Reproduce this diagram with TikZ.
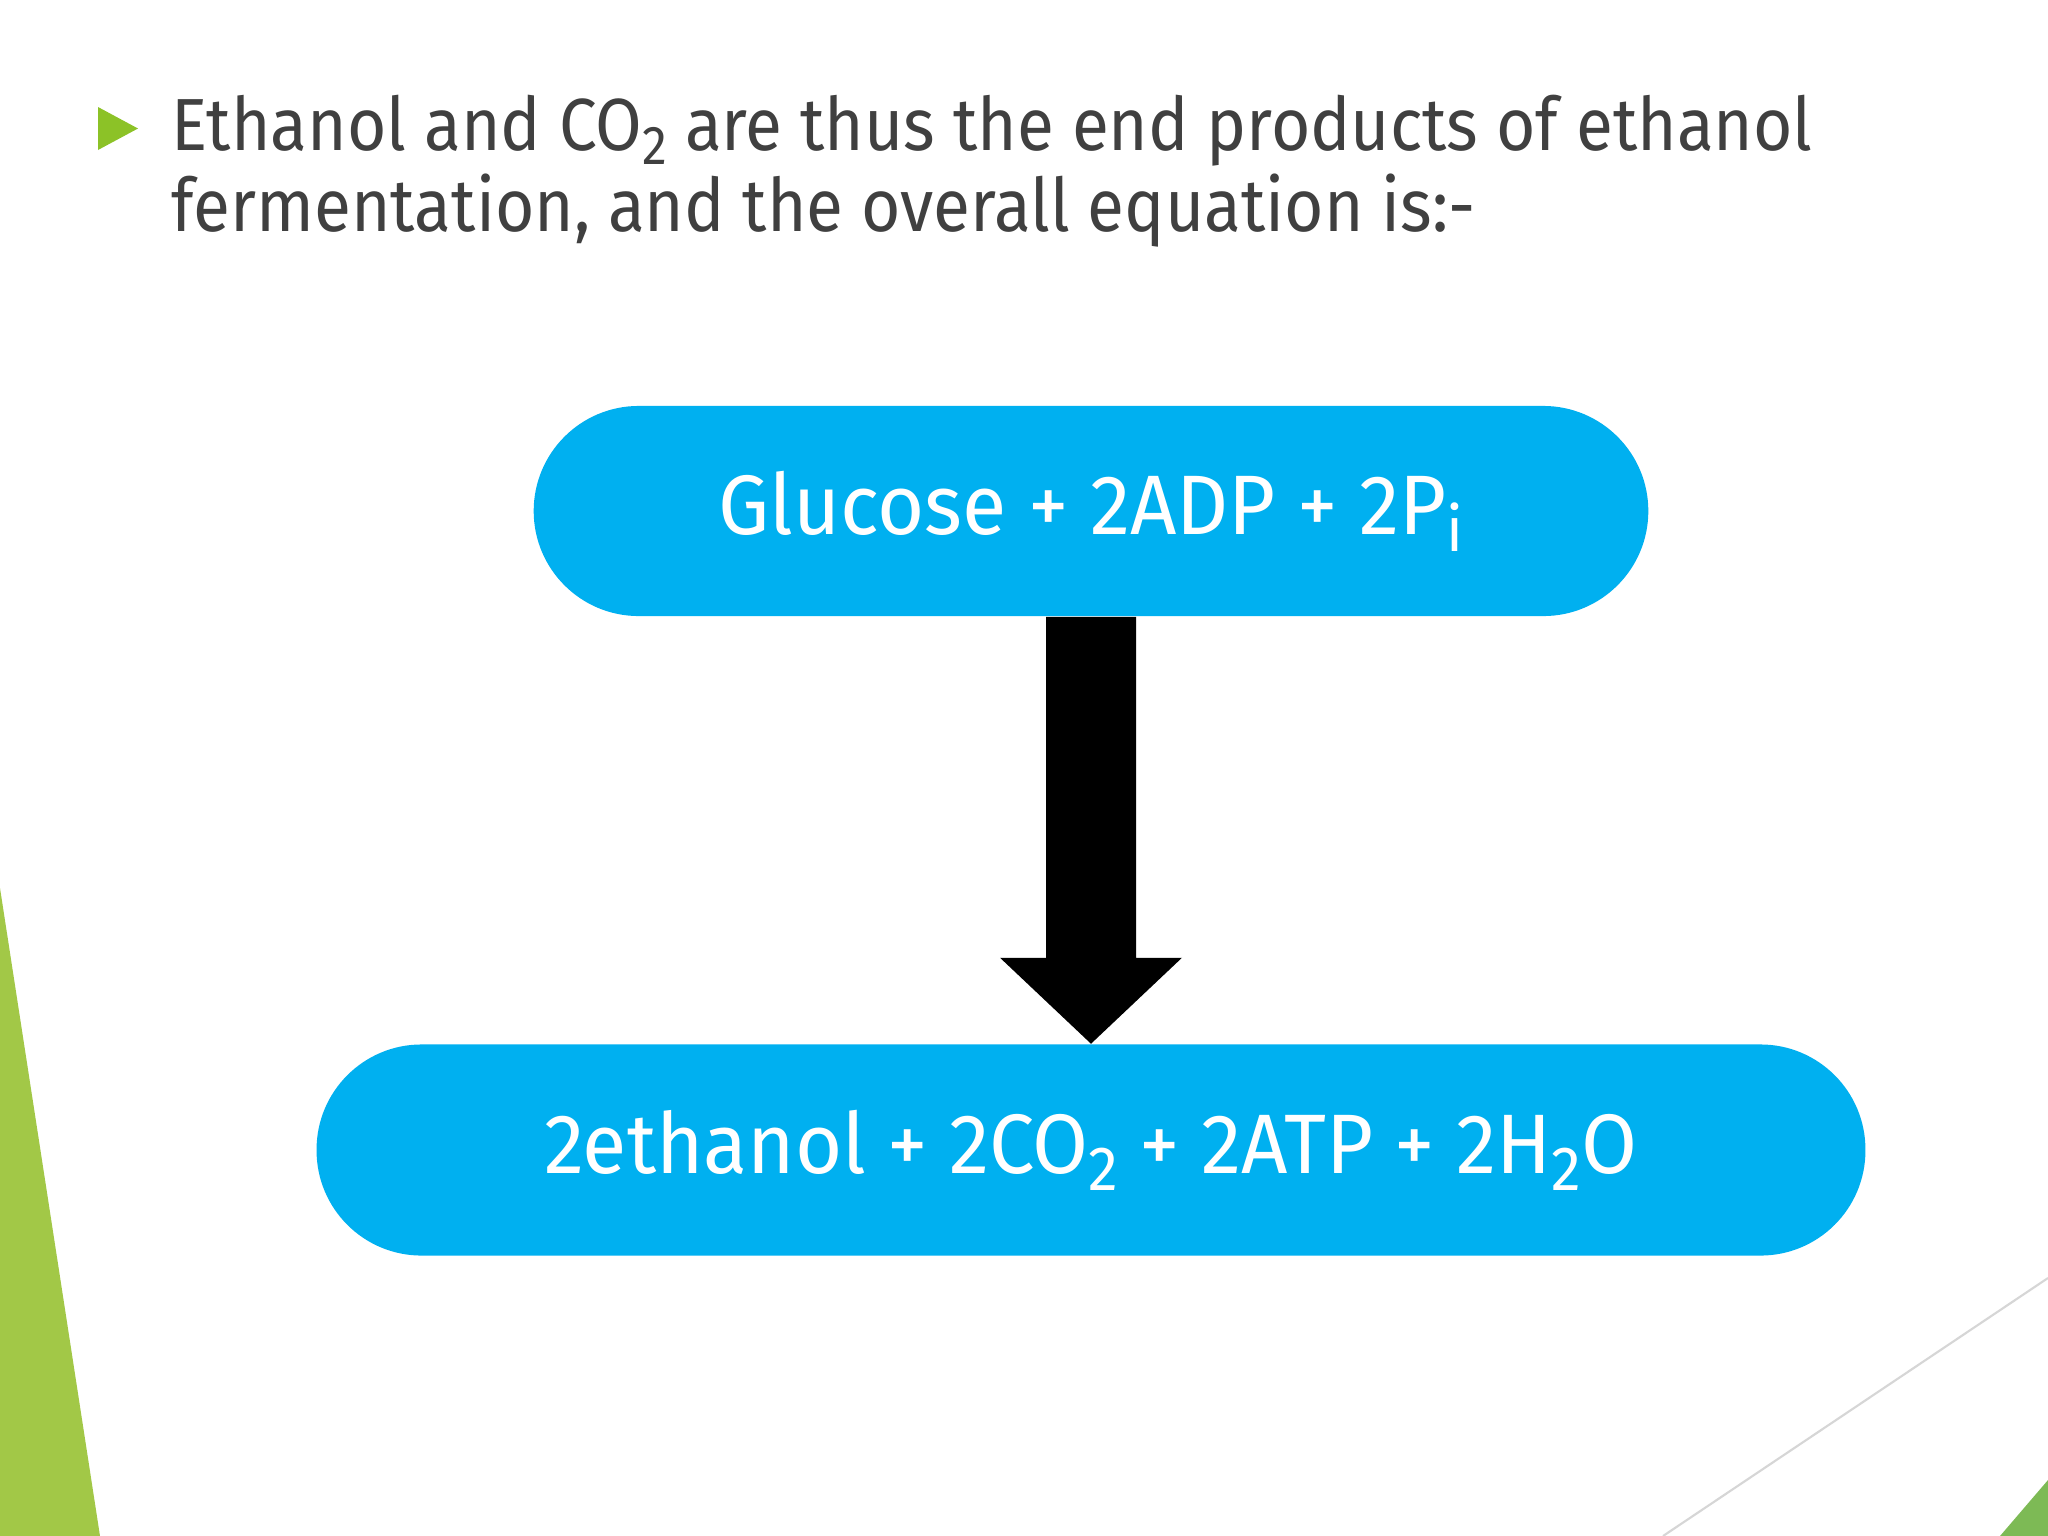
\documentclass[tikz,border=0pt]{standalone}
\usepackage{fontspec}
\usepackage{graphicx}
\setmainfont{Fira Sans}[FakeStretch=0.915]
\newfontfamily\pillfont{Fira Sans}[FakeStretch=0.96]
\usetikzlibrary{calc}
\newcommand\mysub[1]{\raisebox{-0.2em}{\scalebox{0.74}{#1}}}
\definecolor{txtgray}{HTML}{404040}
\definecolor{boxblue}{HTML}{00B0F0}
\definecolor{bulletgreen}{HTML}{8CC227}
\definecolor{leftgreen}{HTML}{A2C847}
\definecolor{rightgreen}{HTML}{7DBA55}
\definecolor{linegray}{HTML}{D6D6D6}
\tikzset{
  pill/.style={fill=boxblue, draw=none, rounded corners=1.05cm, inner sep=0pt,
    text=white, font=\pillfont\fontsize{24}{28}\selectfont},
  titletext/.style={anchor=base west, inner sep=0pt, text=txtgray,
    font=\fontsize{21}{25}\selectfont}
}
\begin{document}
\begin{tikzpicture}[x=0.01cm,y=-0.01cm]
\useasboundingbox (0,0) rectangle (2048,1536);
\fill[white] (0,0) rectangle (2048,1536);
% decorations
\fill[leftgreen] (0,888) -- (100,1536) -- (0,1536) -- cycle;
\draw[linegray, line width=0.6pt] (1663,1536) -- (2048,1278);
\fill[rightgreen] (2000,1536) -- (2048,1480) -- (2048,1536) -- cycle;
% bullet
\fill[bulletgreen] (98,107) -- (138,128.5) -- (98,150) -- cycle;
\node[titletext] (l1) at (171,150) {Ethanol and CO\mysub{2} are thus the end products of ethanol};
\node[titletext] (l2) at (171,231) {fermentation, and the overall equation is:-};
% boxes
\node[pill, minimum width=11.14cm, minimum height=2.10cm] (top) at (1091,511) {Glucose + 2ADP + 2P\mysub{i}};
\node[pill, minimum width=15.48cm, minimum height=2.11cm] (bot) at (1091,1150) {2ethanol + 2CO\mysub{2} + 2ATP + 2H\mysub{2}O};
% arrow
\fill[black] ($(top.south)+(-45,0)$) -- ($(bot.north)+(-45,-86)$) -- ($(bot.north)+(-91,-86)$)
  -- (bot.north) -- ($(bot.north)+(91,-86)$) -- ($(bot.north)+(45,-86)$)
  -- ($(top.south)+(45,0)$) -- cycle;
\end{tikzpicture}
\end{document}
